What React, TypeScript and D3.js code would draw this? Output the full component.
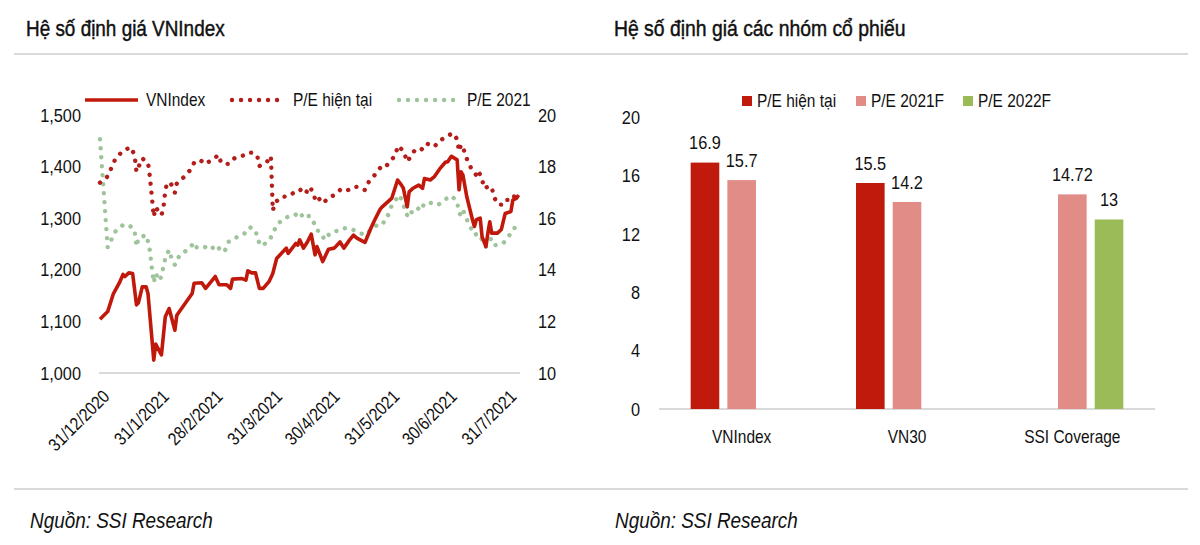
import React from "react";
import * as d3 from "d3";

const FONT = "'Liberation Sans Narrow', 'Arial Narrow', 'Liberation Sans', Arial, sans-serif";

// ---------- Left chart data ----------
const vnIndexSeries: [string, number][] = [
  ["2020-12-31", 1104], ["2021-01-04", 1119], ["2021-01-07", 1154], ["2021-01-10", 1174],
  ["2021-01-12", 1191], ["2021-01-13", 1187], ["2021-01-15", 1194], ["2021-01-17", 1193],
  ["2021-01-19", 1132], ["2021-01-20", 1136], ["2021-01-22", 1167], ["2021-01-24", 1167],
  ["2021-01-25", 1154], ["2021-01-28", 1025], ["2021-01-29", 1056], ["2021-02-01", 1035],
  ["2021-02-03", 1109], ["2021-02-05", 1125], ["2021-02-08", 1083], ["2021-02-09", 1112],
  ["2021-02-17", 1154], ["2021-02-18", 1174], ["2021-02-22", 1175], ["2021-02-24", 1164],
  ["2021-03-01", 1187], ["2021-03-03", 1171], ["2021-03-07", 1171], ["2021-03-09", 1164],
  ["2021-03-10", 1182], ["2021-03-15", 1183], ["2021-03-17", 1180], ["2021-03-18", 1198],
  ["2021-03-20", 1194], ["2021-03-22", 1194], ["2021-03-24", 1164], ["2021-03-26", 1164],
  ["2021-03-29", 1177], ["2021-03-31", 1193], ["2021-04-02", 1222], ["2021-04-06", 1238],
  ["2021-04-07", 1242], ["2021-04-08", 1232], ["2021-04-12", 1251], ["2021-04-13", 1248],
  ["2021-04-14", 1258], ["2021-04-16", 1242], ["2021-04-18", 1254], ["2021-04-20", 1269],
  ["2021-04-22", 1229], ["2021-04-23", 1245], ["2021-04-26", 1216], ["2021-04-29", 1240],
  ["2021-05-02", 1242], ["2021-05-05", 1254], ["2021-05-07", 1242], ["2021-05-10", 1258],
  ["2021-05-12", 1267], ["2021-05-14", 1261], ["2021-05-18", 1253], ["2021-05-21", 1280],
  ["2021-05-23", 1296], ["2021-05-26", 1318], ["2021-05-27", 1322], ["2021-06-01", 1339],
  ["2021-06-04", 1374], ["2021-06-06", 1364], ["2021-06-07", 1358], ["2021-06-09", 1322],
  ["2021-06-10", 1351], ["2021-06-12", 1358], ["2021-06-15", 1364], ["2021-06-17", 1358],
  ["2021-06-18", 1377], ["2021-06-21", 1374], ["2021-06-23", 1380], ["2021-06-26", 1396],
  ["2021-06-29", 1409], ["2021-06-30", 1409], ["2021-07-02", 1420], ["2021-07-05", 1413],
  ["2021-07-06", 1355], ["2021-07-07", 1390], ["2021-07-08", 1384], ["2021-07-10", 1342],
  ["2021-07-13", 1297], ["2021-07-14", 1284], ["2021-07-15", 1297], ["2021-07-17", 1300],
  ["2021-07-18", 1264], ["2021-07-20", 1245], ["2021-07-21", 1271], ["2021-07-22", 1293],
  ["2021-07-23", 1271], ["2021-07-26", 1271], ["2021-07-28", 1278], ["2021-07-30", 1309],
  ["2021-08-02", 1313], ["2021-08-03", 1335], ["2021-08-05", 1339], ["2021-08-06", 1345],
];

const peCurrentSeries: [string, number][] = [
  ["2020-12-31", 17.38], ["2021-01-04", 17.62], ["2021-01-08", 18.3], ["2021-01-12", 18.62],
  ["2021-01-16", 18.75], ["2021-01-18", 18.45], ["2021-01-19", 17.8], ["2021-01-22", 18.32],
  ["2021-01-25", 18.15], ["2021-01-26", 17.6], ["2021-01-28", 16.06], ["2021-01-29", 16.42],
  ["2021-02-01", 16.12], ["2021-02-02", 16.38], ["2021-02-03", 17.07], ["2021-02-04", 17.38],
  ["2021-02-06", 17.33], ["2021-02-08", 16.99], ["2021-02-09", 17.35], ["2021-02-13", 17.61],
  ["2021-02-16", 17.87], ["2021-02-18", 18.15], ["2021-02-21", 18.26], ["2021-02-24", 18.1],
  ["2021-02-27", 18.26], ["2021-03-03", 18.45], ["2021-03-04", 18.15], ["2021-03-08", 18.1],
  ["2021-03-11", 18.32], ["2021-03-15", 18.41], ["2021-03-18", 18.54], ["2021-03-21", 18.54],
  ["2021-03-23", 18.38], ["2021-03-24", 18.02], ["2021-03-28", 18.19], ["2021-03-30", 18.41],
  ["2021-03-31", 16.29], ["2021-04-01", 16.58], ["2021-04-04", 16.81], ["2021-04-08", 16.86],
  ["2021-04-11", 16.99], ["2021-04-14", 17.12], ["2021-04-17", 16.94], ["2021-04-19", 17.22],
  ["2021-04-21", 17.02], ["2021-04-22", 16.74], ["2021-04-23", 16.86], ["2021-04-26", 16.58],
  ["2021-04-29", 16.78], ["2021-05-02", 16.9], ["2021-05-05", 17.09], ["2021-05-08", 17.03],
  ["2021-05-11", 17.18], ["2021-05-14", 17.22], ["2021-05-18", 17.09], ["2021-05-20", 17.41],
  ["2021-05-23", 17.67], ["2021-05-26", 17.96], ["2021-05-28", 17.93], ["2021-05-31", 18.19],
  ["2021-06-03", 18.45], ["2021-06-04", 18.8], ["2021-06-07", 18.62], ["2021-06-09", 18.19],
  ["2021-06-11", 18.41], ["2021-06-13", 18.64], ["2021-06-16", 18.62], ["2021-06-19", 18.9],
  ["2021-06-23", 18.77], ["2021-06-26", 19.0], ["2021-06-30", 19.2], ["2021-07-03", 19.29],
  ["2021-07-05", 19.06], ["2021-07-06", 18.6], ["2021-07-07", 18.84], ["2021-07-08", 18.8],
  ["2021-07-09", 18.49], ["2021-07-11", 18.13], ["2021-07-13", 17.83], ["2021-07-15", 17.67],
  ["2021-07-16", 17.84], ["2021-07-18", 17.51], ["2021-07-19", 17.16], ["2021-07-21", 17.22],
  ["2021-07-23", 17.22], ["2021-07-24", 16.86], ["2021-07-26", 16.55], ["2021-07-29", 16.51],
  ["2021-07-31", 16.71], ["2021-08-03", 16.71], ["2021-08-04", 16.9], ["2021-08-05", 16.92],
  ["2021-08-06", 16.83],
];

const pe2021Series: [string, number][] = [
  ["2020-12-31", 19.06], ["2021-01-01", 18.0], ["2021-01-02", 16.97], ["2021-01-03", 15.9],
  ["2021-01-04", 14.87], ["2021-01-06", 15.18], ["2021-01-08", 15.48], ["2021-01-12", 15.74],
  ["2021-01-15", 15.74], ["2021-01-18", 15.54], ["2021-01-19", 14.9], ["2021-01-20", 15.22],
  ["2021-01-24", 15.35], ["2021-01-25", 15.09], ["2021-01-26", 14.74], ["2021-01-27", 14.06],
  ["2021-01-28", 13.5], ["2021-01-29", 13.86], ["2021-01-31", 13.58], ["2021-02-01", 13.76],
  ["2021-02-02", 14.12], ["2021-02-03", 14.45], ["2021-02-05", 14.77], ["2021-02-06", 14.51],
  ["2021-02-08", 14.19], ["2021-02-09", 14.38], ["2021-02-11", 14.61], ["2021-02-15", 14.79],
  ["2021-02-18", 15.05], ["2021-02-19", 14.87], ["2021-02-23", 14.92], ["2021-02-26", 14.77],
  ["2021-03-02", 14.96], ["2021-03-04", 14.7], ["2021-03-06", 14.73], ["2021-03-08", 15.09],
  ["2021-03-10", 15.13], ["2021-03-13", 15.31], ["2021-03-16", 15.39], ["2021-03-19", 15.65],
  ["2021-03-22", 15.54], ["2021-03-23", 15.18], ["2021-03-25", 14.92], ["2021-03-29", 15.12],
  ["2021-03-31", 15.39], ["2021-04-02", 15.74], ["2021-04-05", 15.93], ["2021-04-08", 16.06],
  ["2021-04-11", 16.09], ["2021-04-14", 16.25], ["2021-04-16", 16.0], ["2021-04-19", 16.09],
  ["2021-04-21", 15.89], ["2021-04-23", 15.54], ["2021-04-25", 15.44], ["2021-04-27", 15.16],
  ["2021-04-30", 15.44], ["2021-05-04", 15.52], ["2021-05-07", 15.61], ["2021-05-10", 15.61],
  ["2021-05-15", 15.44], ["2021-05-18", 15.35], ["2021-05-21", 15.54], ["2021-05-23", 15.65],
  ["2021-05-26", 15.86], ["2021-05-28", 15.83], ["2021-05-30", 16.12], ["2021-06-01", 16.51],
  ["2021-06-03", 16.71], ["2021-06-05", 16.9], ["2021-06-07", 16.55], ["2021-06-08", 16.21],
  ["2021-06-10", 16.03], ["2021-06-11", 16.21], ["2021-06-14", 16.42], ["2021-06-16", 16.29],
  ["2021-06-18", 16.58], ["2021-06-21", 16.6], ["2021-06-25", 16.51], ["2021-06-29", 16.74],
  ["2021-07-02", 16.87], ["2021-07-05", 16.64], ["2021-07-06", 16.2], ["2021-07-07", 16.12],
  ["2021-07-08", 16.32], ["2021-07-10", 15.96], ["2021-07-12", 15.65], ["2021-07-14", 15.35],
  ["2021-07-16", 15.41], ["2021-07-17", 15.26], ["2021-07-19", 15.09], ["2021-07-20", 14.9],
  ["2021-07-21", 15.09], ["2021-07-23", 15.22], ["2021-07-25", 14.96], ["2021-07-29", 15.03],
  ["2021-08-01", 15.31], ["2021-08-03", 15.57], ["2021-08-06", 15.74],
];

const leftAxisTicks = [1000, 1100, 1200, 1300, 1400, 1500];
const rightAxisTicks = [10, 12, 14, 16, 18, 20];
const xTickDates = ["2020-12-31", "2021-01-31", "2021-02-28", "2021-03-31", "2021-04-30", "2021-05-31", "2021-06-30", "2021-07-31"];
const leftLegend = ["VNIndex", "P/E hiện tại", "P/E 2021"];

// ---------- Right chart data ----------
const groupCategories = ["VNIndex", "VN30", "SSI Coverage"];
const barSeriesNames = ["P/E hiện tại", "P/E 2021F", "P/E 2022F"];
const peCurrentBars: (number | null)[] = [16.9, 15.5, null];
const pe2021FBars: (number | null)[] = [15.7, 14.2, 14.72];
const pe2022FBars: (number | null)[] = [null, null, 13];
const barTicks = [0, 4, 8, 12, 16, 20];

const titles = ["Hệ số định giá VNIndex", "Hệ số định giá các nhóm cổ phiếu"];
const sourceText = "Nguồn: SSI Research";

const C_LINE = "#c1180c";
const C_PE = "#b31d1a";
const C_PE21 = "#9fc49c";
const C_BAR1 = "#bf1a0b";
const C_BAR2 = "#e28c87";
const C_BAR3 = "#9bbb59";
const C_GRID = "#d9d9d9";
const INK = "#111";
const SQ = 0.86; // horizontal condensing factor (narrow font look)

type TProps = {
  x: number; y: number; size: number; anchor?: "start" | "middle" | "end";
  dy?: string; rot?: number; sx?: number; italic?: boolean; heavy?: boolean; children: React.ReactNode;
};
function T({ x, y, size, anchor = "start", dy = "0.35em", rot = 0, sx = SQ, italic, heavy, children }: TProps) {
  return (
    <text
      transform={`translate(${x},${y})${rot ? ` rotate(${rot})` : ""} scale(${sx},1)`}
      textAnchor={anchor}
      dy={dy}
      fontSize={size}
      fontStyle={italic ? "italic" : "normal"}
      fill={INK}
      stroke={heavy ? INK : "none"}
      strokeWidth={heavy ? 0.45 : 0}
    >
      {children}
    </text>
  );
}

export default function App() {
  const parse = d3.timeParse("%Y-%m-%d");
  const fmtTick = d3.timeFormat("%-d/%-m/%Y");

  // left scales
  const x = d3.scaleTime().domain([parse("2020-12-31")!, parse("2021-08-07")!]).range([100, 520.5]);
  const yL = d3.scaleLinear().domain([1000, 1500]).range([373, 115]);
  const yR = d3.scaleLinear().domain([10, 20]).range([373, 115]);

  const lineL = d3.line<[string, number]>().x((d) => x(parse(d[0])!)).y((d) => yL(d[1]));
  const lineR = d3.line<[string, number]>().x((d) => x(parse(d[0])!)).y((d) => yR(d[1]));

  // right scales
  const x0 = d3.scaleBand().domain(groupCategories).range([659, 1155]).padding(0);
  const bw = x0.bandwidth();
  const x1 = d3.scaleBand().domain(barSeriesNames).range([bw / 2 - 51, bw / 2 + 51]).paddingInner(0.22);
  const yB = d3.scaleLinear().domain([0, 20]).range([409, 117.4]);
  const barData = [peCurrentBars, pe2021FBars, pe2022FBars];
  const barColors = [C_BAR1, C_BAR2, C_BAR3];
  const fmtComma = d3.format(",");

  const dotted = { strokeDasharray: "0.01 9", strokeLinecap: "round" as const, strokeWidth: 4.4, fill: "none" };

  return (
    <svg width={1200} height={545} style={{ position: "absolute", left: 0, top: 0, background: "#fff" }} fontFamily={FONT}>
      <rect x={0} y={0} width={1200} height={545} fill="#fff" />
      {/* titles */}
      <T x={26} y={28} size={22} heavy>{titles[0]}</T>
      <T x={614} y={28} size={22} sx={0.88} heavy>{titles[1]}</T>
      <line x1={14} x2={1188} y1={54} y2={54} stroke={C_GRID} strokeWidth={2} />

      {/* ---- left chart ---- */}
      <line x1={99} x2={520} y1={yL(1000)} y2={yL(1000)} stroke={C_GRID} strokeWidth={2} />
      {leftAxisTicks.map((t) => (
        <T key={"l" + t} x={81} y={yL(t)} size={19} anchor="end">{fmtComma(t)}</T>
      ))}
      {rightAxisTicks.map((t) => (
        <T key={"r" + t} x={538} y={yR(t)} size={19}>{t}</T>
      ))}
      {xTickDates.map((d) => {
        const px = x(parse(d)!);
        return (
          <T key={d} x={px + 1} y={388} rot={-45} size={18} anchor="end" dy="0.75em">{fmtTick(parse(d)!)}</T>
        );
      })}
      <path d={lineR(pe2021Series)!} stroke={C_PE21} {...dotted} />
      <path d={lineR(peCurrentSeries)!} stroke={C_PE} {...dotted} />
      <path d={lineL(vnIndexSeries)!} stroke={C_LINE} strokeWidth={3.6} fill="none" strokeLinejoin="round" />

      {/* left legend */}
      <line x1={85} x2={138} y1={100} y2={100} stroke={C_LINE} strokeWidth={3.6} />
      <T x={146} y={100} size={18}>{leftLegend[0]}</T>
      <line x1={232} x2={286} y1={100} y2={100} stroke={C_PE} {...dotted} />
      <T x={293} y={100} size={18}>{leftLegend[1]}</T>
      <line x1={399} x2={457} y1={100} y2={100} stroke={C_PE21} {...dotted} />
      <T x={467} y={100} size={18}>{leftLegend[2]}</T>

      {/* ---- right chart ---- */}
      <line x1={659} x2={1155} y1={yB(0)} y2={yB(0)} stroke={C_GRID} strokeWidth={2} />
      {barTicks.map((t) => (
        <T key={"b" + t} x={640} y={yB(t)} size={19} anchor="end">{t}</T>
      ))}
      {groupCategories.map((c, ci) => (
        <g key={c} transform={`translate(${x0(c)},0)`}>
          {barSeriesNames.map((s, si) => {
            const v = barData[si][ci];
            if (v == null) return null;
            const bx = x1(s)!;
            return (
              <g key={s}>
                <rect x={bx} y={yB(v)} width={x1.bandwidth()} height={yB(0) - yB(v)} fill={barColors[si]} />
                <T x={bx + x1.bandwidth() / 2} y={yB(v) - 20} size={19} anchor="middle">{v}</T>
              </g>
            );
          })}
          <T x={bw / 2} y={437} size={18} anchor="middle">{c}</T>
        </g>
      ))}
      {/* right legend */}
      {barSeriesNames.map((s, i) => {
        const lx = [742, 856, 963][i];
        return (
          <g key={"lg" + s}>
            <rect x={lx} y={96} width={10} height={10} fill={barColors[i]} />
            <T x={lx + 15} y={101} size={18}>{s}</T>
          </g>
        );
      })}

      {/* sources */}
      <line x1={14} x2={1188} y1={489} y2={489} stroke={C_GRID} strokeWidth={2} />
      <T x={30} y={520} size={22} italic>{sourceText}</T>
      <T x={615} y={520} size={22} italic>{sourceText}</T>
    </svg>
  );
}
